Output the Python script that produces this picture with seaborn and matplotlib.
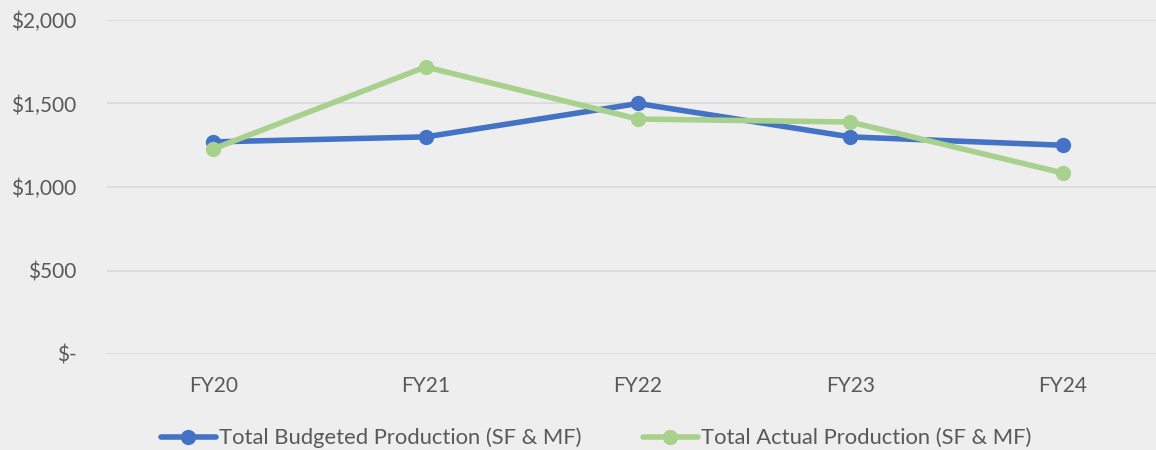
import matplotlib
matplotlib.use("Agg")
import matplotlib.pyplot as plt
import seaborn as sns
import pandas as pd
from matplotlib.ticker import FuncFormatter

years = ["FY20", "FY21", "FY22", "FY23", "FY24"]
budgeted = [1270, 1300, 1500, 1300, 1250]
actual = [1228, 1719, 1407, 1389, 1084]
series_names = ["Total Budgeted Production (SF & MF)", "Total Actual Production (SF & MF)"]
y_ticks = [0, 500, 1000, 1500, 2000]

df = pd.DataFrame({
    "Year": years * 2,
    "Value": budgeted + actual,
    "Series": [series_names[0]] * len(years) + [series_names[1]] * len(years),
})

sns.set_theme(style="white")
plt.rcParams["font.family"] = ["Lato", "DejaVu Sans"]

bg = "#eeeeee"
text_color = "#595959"
palette = {series_names[0]: "#4472c4", series_names[1]: "#a9d18e"}
fs = 15
lfs = 15.8

fig = plt.figure(figsize=(11.56, 4.5), dpi=100, facecolor=bg)
ax = fig.add_axes([107 / 1156, 96 / 450, 1062 / 1156, 334 / 450])
ax.set_facecolor(bg)

df["x"] = df["Year"].map({y: i for i, y in enumerate(years)})
sns.lineplot(data=df, x="x", y="Value", hue="Series", palette=palette, ax=ax,
             marker="o", markersize=11, markeredgewidth=0, linewidth=4,
             legend=True, sort=False)

ax.set_xlim(-0.5, len(years) - 0.5)
ax.set_ylim(0, 2000)
ax.set_xticks(range(len(years)))
ax.set_xticklabels(years)
ax.set_yticks(y_ticks)
ax.yaxis.set_major_formatter(FuncFormatter(lambda v, p: "$-" if v == 0 else f"${v:,.0f}"))
ax.grid(axis="y", color="#d9d9d9", linewidth=1.2)
ax.grid(axis="x", visible=False)
ax.set_axisbelow(True)
for s in ax.spines.values():
    s.set_visible(False)
ax.tick_params(axis="both", length=0, labelsize=fs, colors=text_color)
ax.tick_params(axis="x", pad=16)
ax.tick_params(axis="y", pad=22)
ax.set_xlabel("")
ax.set_ylabel("")

handles, labels = ax.get_legend_handles_labels()
ax.legend(handles, labels, loc="center", bbox_to_anchor=(596 / 1156, 12 / 450),
          bbox_transform=fig.transFigure, ncol=2, frameon=False,
          fontsize=lfs, labelcolor=text_color, handlelength=2.5,
          handletextpad=0.15, columnspacing=2.8)

fig.savefig("out.png", dpi=100, facecolor=bg)
